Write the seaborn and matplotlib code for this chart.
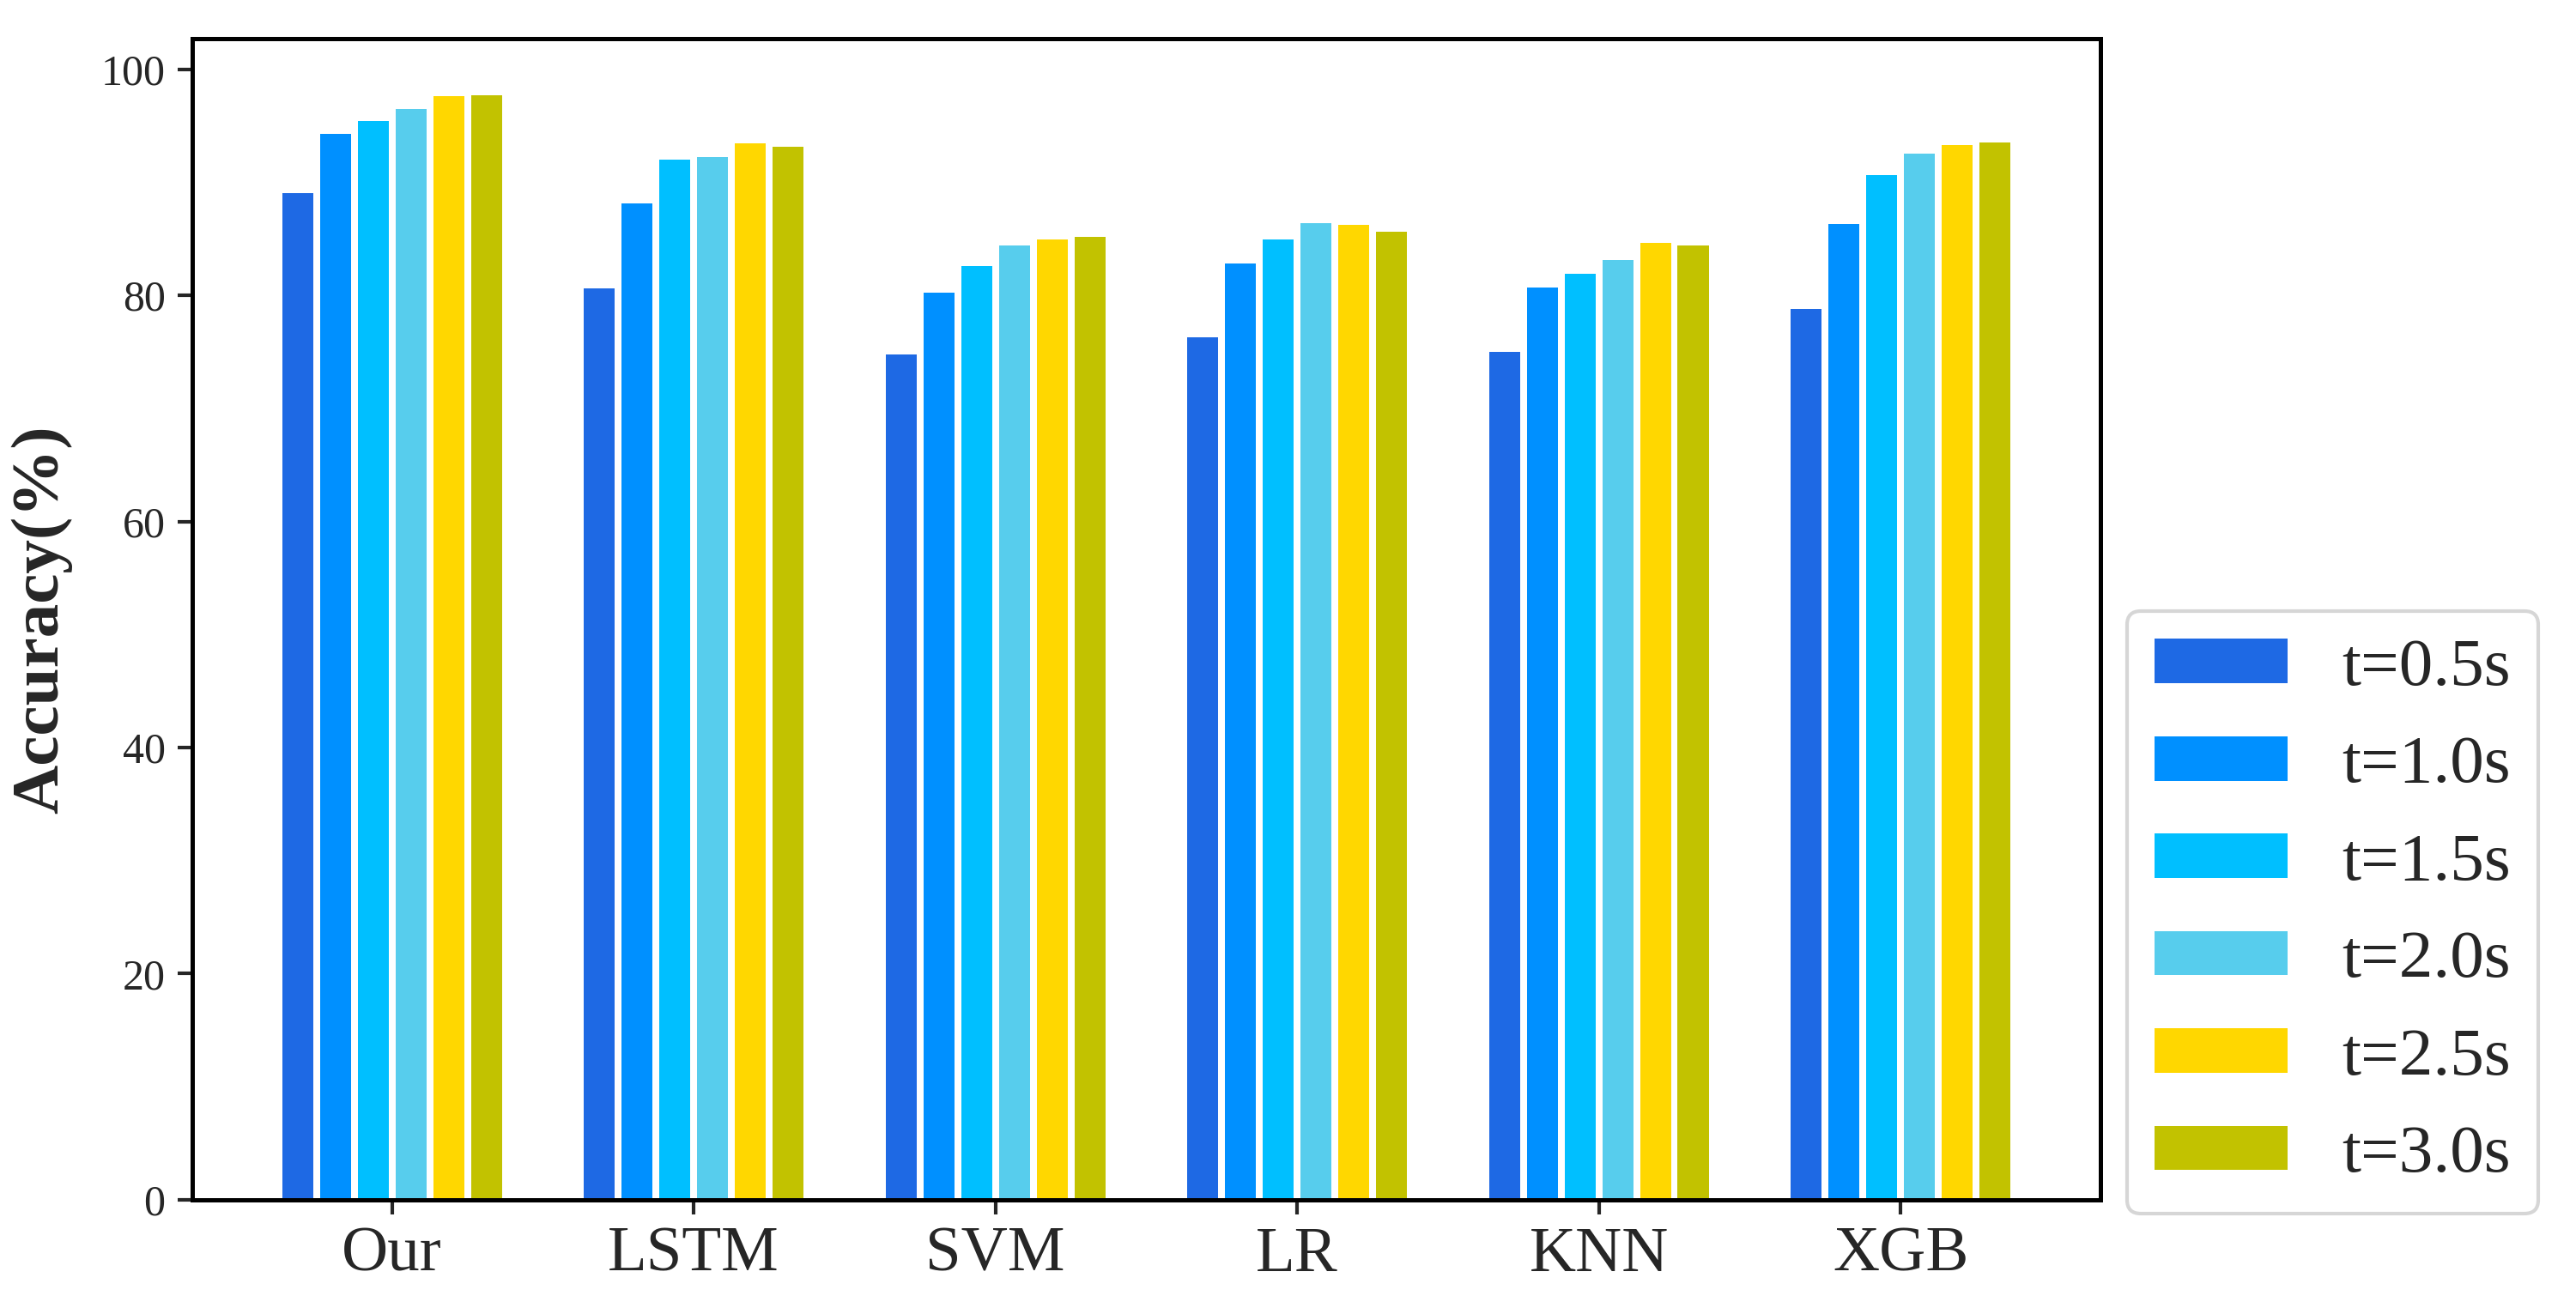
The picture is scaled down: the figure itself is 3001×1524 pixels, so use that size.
import matplotlib
matplotlib.use("Agg")
import matplotlib.pyplot as plt
import seaborn as sns
import pandas as pd

models = ["Our", "LSTM", "SVM", "LR", "KNN", "XGB"]
durations = ["t=0.5s", "t=1.0s", "t=1.5s", "t=2.0s", "t=2.5s", "t=3.0s"]
acc_05 = [89.0, 80.6, 74.8, 76.3, 75.0, 78.8]
acc_10 = [94.3, 88.1, 80.2, 82.8, 80.7, 86.3]
acc_15 = [95.4, 92.0, 82.6, 84.9, 81.9, 90.6]
acc_20 = [96.5, 92.2, 84.4, 86.4, 83.1, 92.5]
acc_25 = [97.6, 93.4, 84.9, 86.2, 84.6, 93.3]
acc_30 = [97.7, 93.1, 85.2, 85.6, 84.4, 93.5]
colors = ["#1E69E4", "#0090FF", "#00BFFF", "#57CDED", "#FFD700", "#C2C200"]

series = [acc_05, acc_10, acc_15, acc_20, acc_25, acc_30]
rows = []
for d, vals in zip(durations, series):
    for m, v in zip(models, vals):
        rows.append({"Model": m, "Duration": d, "Accuracy": v})
df = pd.DataFrame(rows)

sns.set_style("white")
plt.rcParams["font.family"] = ["Liberation Serif", "DejaVu Serif"]

fig = plt.figure(figsize=(3001 / 300, 1524 / 300), dpi=300)
ax = fig.add_axes([0.0746, 0.0827, 0.8154 - 0.0746, 0.9705 - 0.0827])

sns.barplot(data=df, x="Model", y="Accuracy", hue="Duration", order=models,
            hue_order=durations, palette=colors, width=0.75, gap=0.18,
            saturation=1, ax=ax, linewidth=0, edgecolor="none", legend=True)

ax.set_xlim(-0.6625, 5.6625)
ax.set_ylim(0, 102.7)
ax.set_yticks([0, 20, 40, 60, 80, 100])
ax.set_xlabel("")
ax.set_ylabel("Accuracy(%)", fontsize=19, fontweight="bold", labelpad=8)
ax.tick_params(axis="y", labelsize=12, length=4, width=1.0, direction="out", left=True)
ax.tick_params(axis="x", labelsize=18, length=4, width=1.0, direction="out", bottom=True)
for s in ax.spines.values():
    s.set_visible(True)
    s.set_color("black")
    s.set_linewidth(1.2)

handles, labels = ax.get_legend_handles_labels()
ax.legend(handles, labels, loc="lower left", bbox_to_anchor=(0.8257, 0.0722),
          bbox_transform=fig.transFigure, borderaxespad=0, fontsize=19,
          handlelength=1.96, handleheight=0.63, handletextpad=0.8,
          labelspacing=0.53, borderpad=0.4, frameon=True, fancybox=True,
          edgecolor="#cccccc", title=None)

fig.savefig("out.png", dpi=300)
